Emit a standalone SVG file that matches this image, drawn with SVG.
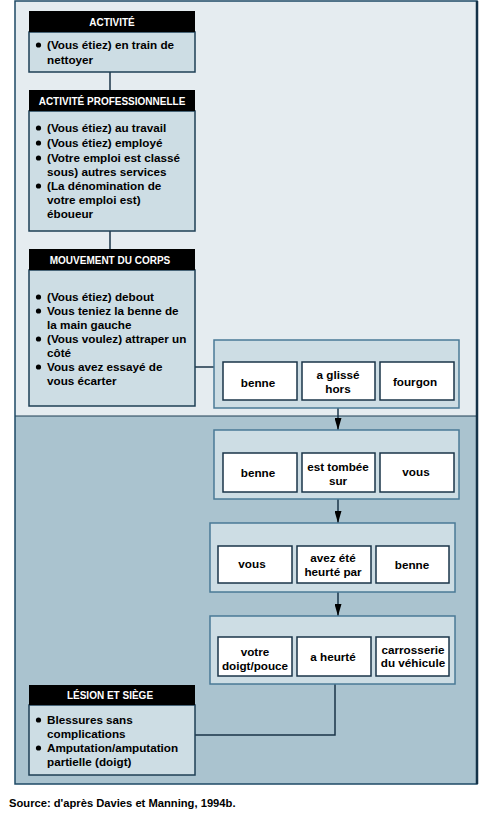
<svg xmlns="http://www.w3.org/2000/svg" width="480" height="817" viewBox="0 0 480 817">
<style>
text{font-family:"Liberation Sans",Arial,sans-serif;font-weight:bold;fill:#000}
.hd{font-size:10px;fill:#fff;text-anchor:middle}
.bt{font-size:11.7px}
.bx{font-size:11.7px;text-anchor:middle}
.hbar{fill:#000}
.body{fill:#cddde4;stroke:#1e3f55;stroke-width:1.5}
.grp{fill:#cddde4;stroke:#4a7a96;stroke-width:1.5}
.wb{fill:#fff;stroke:#1a3448;stroke-width:1.5}
.ln{fill:none;stroke:#1a3448;stroke-width:1.5}
</style>
<defs>
<marker id="ar" markerWidth="12" markerHeight="7" refX="12" refY="3.5" orient="auto" markerUnits="userSpaceOnUse" viewBox="0 0 12 7">
<path d="M0,0 L12,3.5 L0,7 Z" fill="#000"/>
</marker>
</defs>
<rect x="0" y="0" width="480" height="817" fill="#fff"/>
<g id="frame">
<rect x="15" y="1" width="462" height="415" fill="#e5ecf0"/>
<rect x="15" y="416" width="462" height="368" fill="#aac3cf"/>
<line x1="15" y1="416" x2="477" y2="416" stroke="#1e3f55" stroke-width="1.2"/>
<rect x="15" y="1" width="462" height="783" fill="none" stroke="#1e4a66" stroke-width="1.5"/>
<line x1="477" y1="1" x2="477" y2="784" stroke="#143248" stroke-width="2.5"/>
</g>
<g id="connectors">
<line class="ln" x1="110" y1="72" x2="110" y2="90"/>
<line class="ln" x1="110" y1="231" x2="110" y2="249"/>
<line class="ln" x1="195" y1="367" x2="214" y2="367"/>
<line class="ln" x1="338" y1="408" x2="338" y2="430" marker-end="url(#ar)"/>
<line class="ln" x1="338" y1="499" x2="338" y2="523" marker-end="url(#ar)"/>
<line class="ln" x1="338" y1="592" x2="338" y2="616" marker-end="url(#ar)"/>
<polyline class="ln" points="335,684 335,735 195,735"/>
</g>
<g id="activite">
<rect class="body" x="29" y="32" width="166" height="40"/>
<rect class="hbar" x="29" y="11" width="166" height="21"/>
<text class="hd" x="112" y="26">ACTIVITÉ</text>
<circle cx="38.5" cy="45" r="2.6"/>
<text class="bt" x="47" y="49">(Vous étiez) en train de</text>
<text class="bt" x="47" y="64">nettoyer</text>
</g>
<g id="activite-pro">
<rect class="body" x="29" y="111" width="166" height="120"/>
<rect class="hbar" x="29" y="90" width="166" height="21"/>
<text class="hd" x="112" y="105">ACTIVITÉ PROFESSIONNELLE</text>
<circle cx="38.5" cy="128" r="2.6"/>
<text class="bt" x="47" y="132">(Vous étiez) au travail</text>
<circle cx="38.5" cy="143" r="2.6"/>
<text class="bt" x="47" y="147">(Vous étiez) employé</text>
<circle cx="38.5" cy="158" r="2.6"/>
<text class="bt" x="47" y="162">(Votre emploi est classé</text>
<text class="bt" x="47" y="176">sous) autres services</text>
<circle cx="38.5" cy="186" r="2.6"/>
<text class="bt" x="47" y="190">(La dénomination de</text>
<text class="bt" x="47" y="204">votre emploi est)</text>
<text class="bt" x="47" y="218">éboueur</text>
</g>
<g id="mouvement">
<rect class="body" x="29" y="270" width="166" height="136"/>
<rect class="hbar" x="29" y="249" width="166" height="21"/>
<text class="hd" x="110" y="264">MOUVEMENT DU CORPS</text>
<circle cx="38.5" cy="297" r="2.6"/>
<text class="bt" x="47" y="301">(Vous étiez) debout</text>
<circle cx="38.5" cy="311" r="2.6"/>
<text class="bt" x="47" y="315">Vous teniez la benne de</text>
<text class="bt" x="47" y="329">la main gauche</text>
<circle cx="38.5" cy="339" r="2.6"/>
<text class="bt" x="47" y="343">(Vous voulez) attraper un</text>
<text class="bt" x="47" y="357">côté</text>
<circle cx="38.5" cy="367" r="2.6"/>
<text class="bt" x="47" y="371">Vous avez essayé de</text>
<text class="bt" x="47" y="385">vous écarter</text>
</g>
<g id="groupe1">
<rect class="grp" x="214" y="340" width="245" height="68"/>
<rect class="wb" x="223" y="362" width="74" height="38"/>
<rect class="wb" x="302" y="362" width="73" height="38"/>
<rect class="wb" x="380" y="362" width="74" height="38"/>
<text class="bx" x="258" y="387">benne</text>
<text class="bx" x="338" y="379">a glissé</text>
<text class="bx" x="338" y="393">hors</text>
<text class="bx" x="415" y="386">fourgon</text>
</g>
<g id="groupe2">
<rect class="grp" x="214" y="430" width="245" height="69"/>
<rect class="wb" x="223" y="453" width="74" height="39"/>
<rect class="wb" x="302" y="453" width="73" height="39"/>
<rect class="wb" x="380" y="453" width="74" height="39"/>
<text class="bx" x="258" y="477">benne</text>
<text class="bx" x="338" y="471">est tombée</text>
<text class="bx" x="338" y="485">sur</text>
<text class="bx" x="416" y="476">vous</text>
</g>
<g id="groupe3">
<rect class="grp" x="210" y="523" width="245" height="69"/>
<rect class="wb" x="218" y="546" width="74" height="37"/>
<rect class="wb" x="297" y="546" width="74" height="37"/>
<rect class="wb" x="376" y="546" width="73" height="37"/>
<text class="bx" x="252" y="568">vous</text>
<text class="bx" x="333" y="562">avez été</text>
<text class="bx" x="333" y="576">heurté par</text>
<text class="bx" x="412" y="569">benne</text>
</g>
<g id="groupe4">
<rect class="grp" x="210" y="616" width="245" height="68"/>
<rect class="wb" x="218" y="637" width="74" height="39"/>
<rect class="wb" x="297" y="637" width="74" height="39"/>
<rect class="wb" x="376" y="637" width="73" height="39"/>
<text class="bx" x="255" y="656">votre</text>
<text class="bx" x="255" y="670">doigt/pouce</text>
<text class="bx" x="333" y="661">a heurté</text>
<text class="bx" x="413" y="654">carrosserie</text>
<text class="bx" x="413" y="667">du véhicule</text>
</g>
<g id="lesion">
<rect class="body" x="29" y="705" width="166" height="70"/>
<rect class="hbar" x="29" y="685" width="166" height="20"/>
<text class="hd" x="110" y="699">LÉSION ET SIÈGE</text>
<circle cx="38.5" cy="720" r="2.6"/>
<text class="bt" x="47" y="724">Blessures sans</text>
<text class="bt" x="47" y="738">complications</text>
<circle cx="38.5" cy="748" r="2.6"/>
<text class="bt" x="47" y="752">Amputation/amputation</text>
<text class="bt" x="47" y="766">partielle (doigt)</text>
</g>
<text x="9" y="807" style="font-size:11.2px">Source: d'après Davies et Manning, 1994b.</text>
</svg>
